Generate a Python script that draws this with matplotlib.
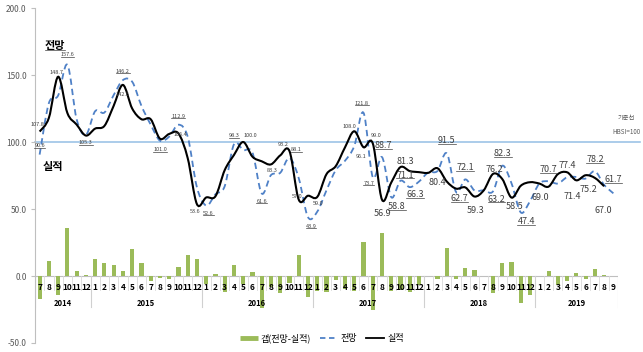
import numpy as np
import matplotlib
matplotlib.use('Agg')
import matplotlib.pyplot as plt
from matplotlib.path import Path
from matplotlib.patches import PathPatch
from matplotlib.lines import Line2D
import matplotlib.transforms as mtrans

plt.rcParams['font.family'] = ['Noto Sans CJK KR', 'DejaVu Sans']

# ---- data (2014.07 ~ 2019.09) ----
years = ['2014', '2015', '2016', '2017', '2018', '2019']
months = [7, 8, 9, 10, 11, 12] + list(range(1, 13)) * 4 + list(range(1, 10))

forecast = [90.6, 129.0, 134.7, 157.6, 117.0, 105.3,
            123.0, 122.0, 135.0, 146.2, 145.0, 127.0, 113.0, 101.0, 104.0, 112.9, 104.0, 66.1,
            52.6, 61.0, 67.0, 98.3, 94.0, 92.0, 61.6, 75.3, 77.0, 88.1, 73.0, 43.9,
            48.0, 64.0, 79.0, 86.0, 97.0, 121.8, 73.7, 88.7, 58.8, 71.1, 66.3, 70.5,
            77.3, 78.4, 91.5, 62.7, 72.1, 63.8, 64.0, 63.2, 82.3, 69.0, 47.4, 56.0,
            69.0, 70.7, 69.0, 73.7, 73.9, 72.7, 78.2, 68.0, 61.7]
actual = [107.8, 118.0, 148.7, 121.6, 113.0, 104.8,
          110.0, 112.0, 127.0, 142.6, 125.0, 117.0, 117.0, 102.5, 106.0, 106.4, 88.0, 53.6,
          58.6, 59.5, 79.0, 90.3, 100.0, 89.0, 85.6, 83.3, 90.0, 93.2, 57.0, 59.9,
          59.0, 76.0, 82.0, 96.0, 108.0, 96.1, 99.0, 56.9, 69.8, 81.3, 78.3, 77.5,
          77.0, 80.4, 70.5, 65.2, 66.1, 59.3, 64.0, 76.2, 72.3, 58.5, 67.4, 70.0,
          69.0, 66.7, 76.0, 77.4, 71.4, 75.2, 73.2, 67.0]

# labelled points: (index, dx px, dy px)  -- dy downward as on screen
fc_labels = [(0, 0, -8.6), (3, 0, -10), (5, 0, 8), (9, 0, -8.5), (13, 0, 9.3),
             (15, 0, -8.7), (18, 2, 8), (21, 0, -8.3), (24, 0, 8), (27, 7, -8),
             (29, 3, 9), (35, -2, -9.5), (36, -4, 6), (37, 1.4, -12), (38, 5.6, 9.5),
             (39, 4.6, -5.7), (40, 5.4, 7.8), (44, 0, -12.4), (45, 3.4, 7), (46, 0, -12),
             (49, 3.4, 7.7), (50, 0.6, -12.4), (52, 5.4, 9.2), (55, 0, -12),
             (60, 0.4, -12), (62, 0.2, -14)]
ac_labels = [(0, -2, -7), (2, -2, -4), (9, 0, 10), (15, 2, 1), (17, -2, 7.5),
             (22, 7, -6.7), (25, 1, 6), (27, -6, -7), (28, -2, -3), (30, 1, 7),
             (34, -5, -5), (35, -2, 9), (36, 3.5, -8), (37, 0, 14), (39, 4.6, -6),
             (43, 0, 14), (47, 0.6, 14), (49, 1, -4.6), (51, 3, 8.4), (54, 1, 14),
             (57, 0.4, -7), (58, -3.8, 16.4), (59, 3, 14), (61, -0.6, 24)]

GREEN = '#9BBB59'
BLUE = '#4F81C7'
GREY = '#595959'

n = len(forecast)
x = np.arange(n)
fc = np.array(forecast)
ac = np.array(actual + [np.nan])
gap = np.nan_to_num(fc - ac)

W, H = 643, 352
fig = plt.figure(figsize=(W / 100, H / 100), dpi=100)
ax = fig.add_axes([35 / W, 1 - 343 / H, 583 / W, 335 / H])
ax.set_xlim(-0.5, n - 0.5)
ax.set_ylim(-50, 200)


def smooth_path(xs, ys):
    pts = np.column_stack([xs, ys])
    verts = [pts[0]]
    codes = [Path.MOVETO]
    for i in range(len(pts) - 1):
        p0 = pts[max(i - 1, 0)]
        p1 = pts[i]
        p2 = pts[i + 1]
        p3 = pts[min(i + 2, len(pts) - 1)]
        verts += [p1 + (p2 - p0) / 6, p2 - (p3 - p1) / 6, p2]
        codes += [Path.CURVE4] * 3
    return Path(verts, codes)


# bars
ax.bar(x, gap, width=0.45, color=GREEN, zorder=2)

# reference line at 100
xr = -0.5 + (640 - 35) / (583 / n)
ax.plot([-0.5, xr], [100, 100], color='#9DC3E6', lw=1.2, clip_on=False, zorder=1)

# lines
ax.add_patch(PathPatch(smooth_path(x, fc), fill=False, edgecolor=BLUE, lw=1.3,
                       linestyle=(0, (3.5, 2.2)), zorder=3))
ok = ~np.isnan(ac)
ax.add_patch(PathPatch(smooth_path(x[ok], ac[ok]), fill=False, edgecolor='black',
                       lw=1.5, zorder=4))

# category axis
ax.axhline(0, color='#BFBFBF', lw=0.8, zorder=1)
for b in np.arange(-0.5, n):
    ax.plot([b, b], [0, -10.4], color='#D9D9D9', lw=0.6, zorder=1)
starts = [-0.5, 5.5, 17.5, 29.5, 41.5, 53.5, n - 0.5]
for b in starts:
    ax.plot([b, b], [0, -23], color='#D0D0D0', lw=0.8, zorder=1)
for i, m in enumerate(months):
    ax.text(i, -8.3, str(m), ha='center', va='center', fontsize=6,
            fontweight='bold', color='black', zorder=5)
for k, yr in enumerate(years):
    ax.text((starts[k] + starts[k + 1]) / 2, -20.4, yr, ha='center', va='center',
            fontsize=5.5, fontweight='bold', color='black')

# y axis
ax.set_yticks([-50, 0, 50, 100, 150, 200])
ax.set_yticklabels([f'{v:.1f}' for v in [-50, 0, 50, 100, 150, 200]])
ax.tick_params(axis='y', labelsize=6, colors='#BFBFBF', labelcolor=GREY,
               length=3, pad=3)
ax.set_xticks([])
for s in ['top', 'right', 'bottom']:
    ax.spines[s].set_visible(False)
ax.spines['left'].set_color('#BFBFBF')

# data labels
under = []
for idx, dx, dy in fc_labels:
    big = idx >= 37
    t = ax.annotate(f'{fc[idx]:.1f}', (idx, fc[idx]), xytext=(dx, -dy),
                    textcoords='offset pixels', ha='center', va='center',
                    fontsize=6.5 if big else 4, color='#404040', zorder=6)
    under.append(t)
for idx, dx, dy in ac_labels:
    big = idx >= 37
    ax.annotate(f'{ac[idx]:.1f}', (idx, ac[idx]), xytext=(dx, -dy),
                textcoords='offset pixels', ha='center', va='center',
                fontsize=6.5 if big else 4, color='#404040', zorder=6)

t1 = fig.text(55 / W, 1 - 45 / H, '전망', ha='center', va='center', fontsize=8,
              fontweight='bold')
under.append(t1)
fig.text(53 / W, 1 - 167 / H, '실적', ha='center', va='center', fontsize=8,
         fontweight='bold')
fig.text(626 / W, 1 - 118 / H, '기준선', ha='center', va='center', fontsize=4.5, color=GREY)
fig.text(626 / W, 1 - 131.7 / H, 'HBSI=100', ha='center', va='center', fontsize=4.5,
         color=GREY)

# legend
handles = [Line2D([], [], color=GREEN, lw=3.5, solid_capstyle='butt'),
           Line2D([], [], color=BLUE, lw=1.3, linestyle=(0, (3, 2))),
           Line2D([], [], color='black', lw=1.3)]
fig.legend(handles, ['갭(전망-실적)', '전망', '실적'], loc='center',
           bbox_to_anchor=(321.7 / W, 1 - 338 / H), ncol=3, frameon=False,
           fontsize=6.5, handlelength=2.0, columnspacing=1.0, handletextpad=0.3)

# underline forecast labels
fig.canvas.draw()
r = fig.canvas.get_renderer()
for t in under:
    bb = t.get_window_extent(r)
    yy = bb.y0 + bb.height * 0.12
    fig.add_artist(Line2D([bb.x0, bb.x1], [yy, yy], color='#404040', lw=0.5,
                          transform=mtrans.IdentityTransform()))

fig.savefig('out.png', dpi=100)
